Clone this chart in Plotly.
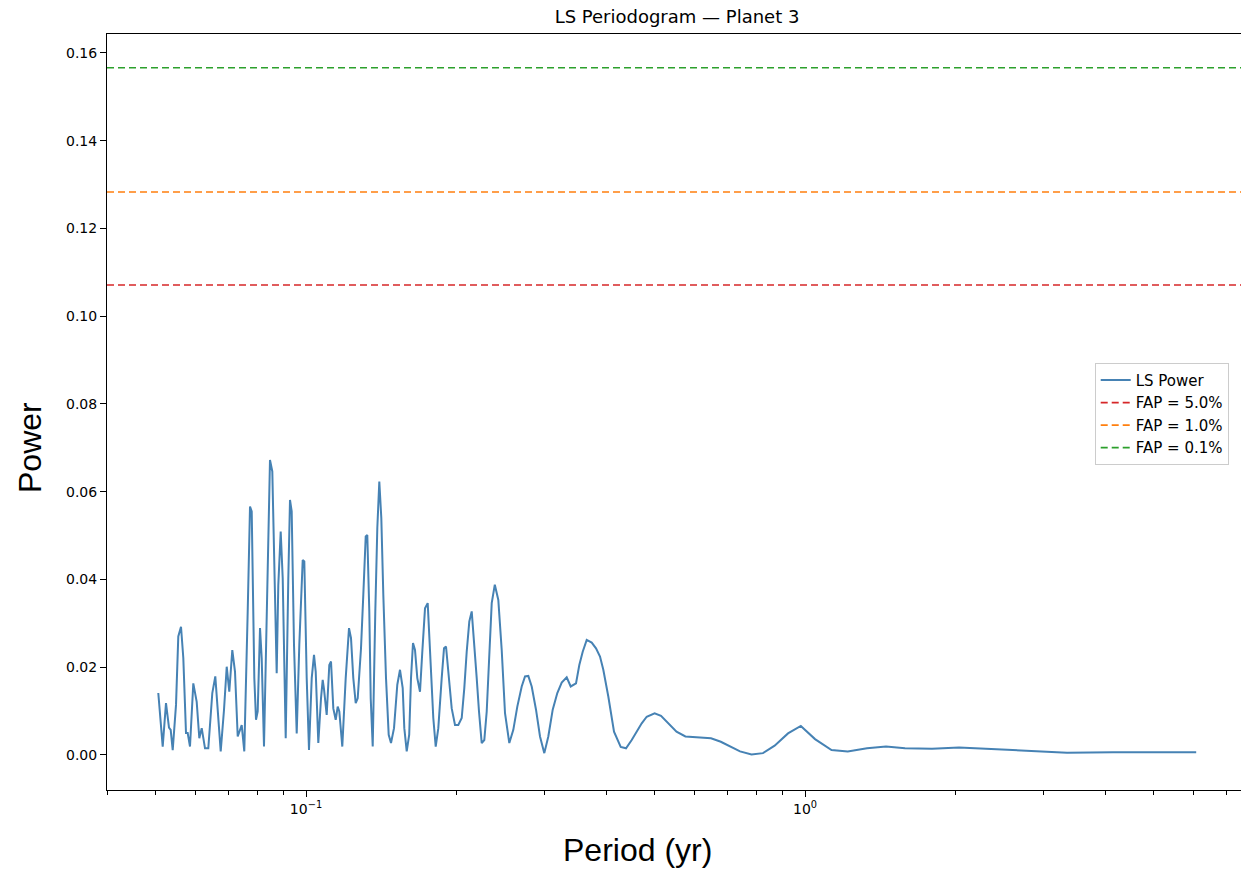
import plotly.graph_objects as go

# ---- data ----
period_yr = [
    0.05058, 0.05162, 0.05241, 0.05314, 0.05356, 0.05406, 0.05489, 0.05547, 0.05617, 0.05677,
    0.05748, 0.05793, 0.05855, 0.05945, 0.06039, 0.06112, 0.06180, 0.06275, 0.06371, 0.06490,
    0.06580, 0.06653, 0.06746, 0.06850, 0.06936, 0.07019, 0.07117, 0.07206, 0.07297, 0.07433,
    0.07522, 0.07641, 0.07723, 0.07784, 0.07878, 0.07940, 0.08002, 0.08088, 0.08151, 0.08238,
    0.08341, 0.08469, 0.08560, 0.08667, 0.08735, 0.08800, 0.08898, 0.08981, 0.09106, 0.09216,
    0.09288, 0.09361, 0.09461, 0.09580, 0.09696, 0.09849, 0.09922, 0.10032, 0.10139, 0.10267,
    0.10376, 0.10458, 0.10584, 0.10717, 0.10801, 0.10866, 0.11002, 0.11135, 0.11223, 0.11343,
    0.11469, 0.11575, 0.11661, 0.11823, 0.12010, 0.12195, 0.12308, 0.12439, 0.12578, 0.12694,
    0.12889, 0.13027, 0.13172, 0.13269, 0.13392, 0.13479, 0.13604, 0.13768, 0.13896, 0.14025,
    0.14155, 0.14286, 0.14465, 0.14646, 0.14803, 0.15009, 0.15239, 0.15430, 0.15624, 0.15740,
    0.15915, 0.16100, 0.16234, 0.16384, 0.16536, 0.16713, 0.16922, 0.17103, 0.17317, 0.17534,
    0.17721, 0.17993, 0.18194, 0.18413, 0.18704, 0.18904, 0.19079, 0.19283, 0.19588, 0.19888,
    0.20193, 0.20513, 0.20760, 0.20991, 0.21245, 0.21482, 0.21711, 0.21983, 0.22217, 0.22496,
    0.22768, 0.23021, 0.23267, 0.23559, 0.23898, 0.24287, 0.24671, 0.25050, 0.25552, 0.26028,
    0.26512, 0.27056, 0.27471, 0.27893, 0.28334, 0.28902, 0.29440, 0.30030, 0.30589, 0.31217,
    0.31887, 0.32541, 0.33300, 0.33920, 0.34760, 0.35294, 0.35852, 0.36519, 0.37372, 0.38121,
    0.38831, 0.39427, 0.40347, 0.41423, 0.42723, 0.43781, 0.44947, 0.45996, 0.47070, 0.48169,
    0.49957, 0.51455, 0.55270, 0.57587, 0.62028, 0.64807, 0.67805, 0.74086, 0.78125, 0.82382,
    0.86913, 0.92455, 0.98081, 1.04723, 1.13007, 1.21779, 1.33122, 1.45319, 1.58636, 1.79683,
    2.03525, 2.34823, 2.75475, 3.35006, 4.14225, 6.08000,
]
ls_power = [
    0.0141, 0.0019, 0.0118, 0.0062, 0.0057, 0.0011, 0.0114, 0.0270, 0.0292, 0.0221,
    0.0050, 0.0050, 0.0019, 0.0163, 0.0121, 0.0038, 0.0061, 0.0015, 0.0015, 0.0141,
    0.0179, 0.0107, 0.0008, 0.0103, 0.0201, 0.0144, 0.0239, 0.0190, 0.0042, 0.0068,
    0.0008, 0.0327, 0.0566, 0.0555, 0.0175, 0.0080, 0.0099, 0.0289, 0.0220, 0.0019,
    0.0327, 0.0672, 0.0646, 0.0403, 0.0186, 0.0387, 0.0509, 0.0403, 0.0038, 0.0403,
    0.0581, 0.0555, 0.0251, 0.0049, 0.0251, 0.0444, 0.0441, 0.0175, 0.0011, 0.0175,
    0.0228, 0.0190, 0.0027, 0.0129, 0.0171, 0.0150, 0.0091, 0.0205, 0.0213, 0.0106,
    0.0080, 0.0110, 0.0099, 0.0019, 0.0175, 0.0289, 0.0266, 0.0175, 0.0118, 0.0129,
    0.0243, 0.0365, 0.0498, 0.0501, 0.0327, 0.0129, 0.0019, 0.0327, 0.0517, 0.0623,
    0.0540, 0.0365, 0.0175, 0.0046, 0.0027, 0.0061, 0.0160, 0.0194, 0.0152, 0.0061,
    0.0008, 0.0046, 0.0175, 0.0255, 0.0239, 0.0175, 0.0144, 0.0235, 0.0334, 0.0346,
    0.0251, 0.0084, 0.0019, 0.0061, 0.0175, 0.0243, 0.0247, 0.0190, 0.0106, 0.0068,
    0.0068, 0.0084, 0.0152, 0.0235, 0.0304, 0.0327, 0.0266, 0.0175, 0.0099, 0.0027,
    0.0034, 0.0099, 0.0213, 0.0346, 0.0388, 0.0353, 0.0239, 0.0095, 0.0027, 0.0057,
    0.0110, 0.0156, 0.0179, 0.0180, 0.0156, 0.0103, 0.0042, 0.0004, 0.0042, 0.0103,
    0.0141, 0.0165, 0.0177, 0.0156, 0.0163, 0.0205, 0.0235, 0.0262, 0.0256, 0.0243,
    0.0224, 0.0194, 0.0133, 0.0053, 0.0018, 0.0015, 0.0034, 0.0053, 0.0072, 0.0087,
    0.0095, 0.0089, 0.0053, 0.0042, 0.0040, 0.0038, 0.0030, 0.0008, 0.0001, 0.0004,
    0.0021, 0.0049, 0.0066, 0.0036, 0.0011, 0.0008, 0.0015, 0.0019, 0.0015, 0.0014,
    0.0017, 0.0014, 0.0009, 0.0005, 0.0006, 0.0006,
]
fap_labels = ["FAP = 5.0%", "FAP = 1.0%", "FAP = 0.1%"]
fap_levels = [0.1071, 0.1283, 0.1566]
fap_colors = ["#d62728", "#ff7f0e", "#2ca02c"]

y_tick_vals = [0.00, 0.02, 0.04, 0.06, 0.08, 0.10, 0.12, 0.14, 0.16]
x_major_ticks = [0.1, 1.0]
x_major_labels = ["10<sup>\u22121</sup>", "10<sup>0</sup>"]
x_minor_ticks = [0.04, 0.05, 0.06, 0.07, 0.08, 0.09,
                 0.2, 0.3, 0.4, 0.5, 0.6, 0.7, 0.8, 0.9,
                 2, 3, 4, 5, 6, 7]

FONT = "DejaVu Sans"

fig = go.Figure()
fig.add_trace(go.Scatter(
    x=period_yr, y=ls_power, mode="lines", name="LS Power",
    line=dict(color="#4682b4", width=2),
))
for lab, lev, col in zip(fap_labels, fap_levels, fap_colors):
    fig.add_shape(type="line", xref="x domain", yref="y", x0=0, x1=1, y0=lev, y1=lev,
                  line=dict(color=col, width=1.6, dash="7px,4px"))
    fig.add_trace(go.Scatter(x=[None], y=[None], mode="lines", name=lab,
                             line=dict(color=col, width=1.6, dash="7px,4px")))

fig.update_layout(
    width=1241, height=869,
    margin=dict(l=107, r=0, t=34, b=79),
    paper_bgcolor="white", plot_bgcolor="white",
    font=dict(family=FONT, size=14, color="black"),
    title=dict(text="LS Periodogram \u2014 Planet 3", x=677 / 1241, xanchor="center",
               y=1 - 17 / 869, yanchor="middle", font=dict(family=FONT, size=18, color="black")),
    showlegend=True,
    legend=dict(x=0.871, y=0.565, xanchor="left", yanchor="top",
                bgcolor="rgba(255,255,255,0.8)", bordercolor="#cccccc", borderwidth=1,
                font=dict(family=FONT, size=15, color="black"), tracegroupgap=0),
    annotations=[
        dict(text="Period (yr)", xref="paper", yref="paper", x=0.4674, y=-0.0794,
             xanchor="center", yanchor="middle", showarrow=False,
             font=dict(family="Liberation Sans", size=32, color="black")),
        dict(text="Power", xref="paper", yref="paper", x=-0.0679, y=0.4524,
             xanchor="center", yanchor="middle", showarrow=False, textangle=-90,
             font=dict(family="Liberation Sans", size=32, color="black")),
    ],
)
fig.update_xaxes(
    type="log", range=[-1.3988, 0.8737],
    tickmode="array", tickvals=x_major_ticks, ticktext=x_major_labels,
    ticks="outside", ticklen=6, tickwidth=1, tickcolor="black",
    minor=dict(tickmode="array", tickvals=x_minor_ticks, ticks="outside", ticklen=3.5,
               tickwidth=0.8, tickcolor="black", showgrid=False),
    showgrid=False, zeroline=False,
    showline=True, linecolor="black", linewidth=1, mirror=True,
    tickfont=dict(family=FONT, size=14, color="black"),
)
fig.update_yaxes(
    range=[-0.0080, 0.1643],
    tickmode="array", tickvals=y_tick_vals, tickformat=".2f",
    ticks="outside", ticklen=6, tickwidth=1, tickcolor="black",
    showgrid=False, zeroline=False,
    showline=True, linecolor="black", linewidth=1, mirror=False,
    tickfont=dict(family=FONT, size=14, color="black"),
)

fig.write_html("out.html")
